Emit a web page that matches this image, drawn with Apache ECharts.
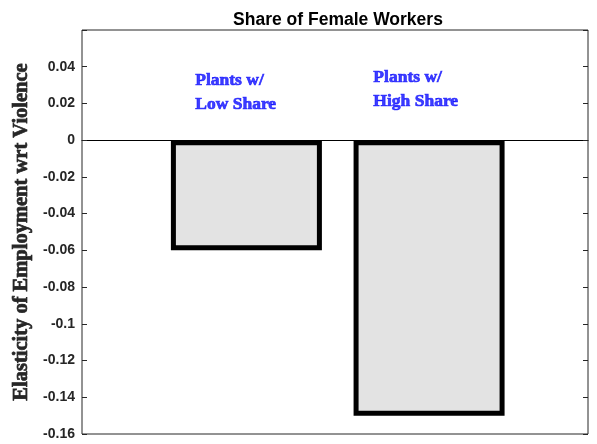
<!DOCTYPE html>
<html>
<head>
<meta charset="utf-8">
<script src="https://cdn.jsdelivr.net/npm/echarts@6/dist/echarts.min.js"></script>
<style>
  html, body { margin: 0; padding: 0; background: #fff; }
  #chart { width: 597px; height: 444px; }
</style>
</head>
<body>
<div id="chart"></div>
<script>
// bar positions and values
const barX = [1, 2]
const barValues = [-0.06, -0.15]
// blue annotations: [x, y, text]
const annotations = [
  [0.72, 0.026, 'Plants w/\nLow Share'],
  [1.695, 0.0275, 'Plants w/\nHigh Share']
]
const yTicks = [-0.16, -0.14, -0.12, -0.1, -0.08, -0.06, -0.04, -0.02, 0, 0.02, 0.04]

const chart = echarts.init(document.getElementById('chart'))

function fmt(v) {
  const r = Math.round(v * 100) / 100
  if (yTicks.indexOf(r) < 0) return ''
  return String(r)
}

chart.setOption({
  animation: false,
  title: {
    text: 'Share of Female Workers',
    left: 333,
    textAlign: 'center',
    top: 6,
    textStyle: { fontFamily: 'Liberation Sans', fontWeight: 'bold', fontSize: 17.5, color: '#000' }
  },
  grid: {
    left: 82, right: 9, top: 30, bottom: 10,
    outerBoundsMode: 'none',
    show: true,
    borderColor: '#262626',
    borderWidth: 1
  },
  xAxis: {
    type: 'value',
    min: 0.1,
    max: 2.87,
    axisLine: { show: true, onZero: true, lineStyle: { color: '#000', width: 1 } },
    axisTick: { show: false },
    axisLabel: { show: false },
    splitLine: { show: false }
  },
  yAxis: [{
    type: 'value',
    min: -0.16,
    max: 0.06,
    interval: 0.02,
    name: 'Elasticity of Employment wrt Violence',
    nameLocation: 'middle',
    nameGap: 49,
    nameTextStyle: {
      fontFamily: 'Liberation Serif', fontWeight: 700, fontSize: 20.5, color: '#262626',
      textBorderColor: '#262626', textBorderWidth: 0.7
    },
    axisLine: { show: false },
    axisTick: { show: true, inside: true, length: 5, lineStyle: { color: '#262626' } },
    axisLabel: {
      formatter: fmt,
      fontFamily: 'Liberation Sans', fontWeight: 'bold', fontSize: 14, color: '#262626', margin: 7
    },
    splitLine: { show: false }
  }, {
    type: 'value',
    position: 'right',
    min: -0.16,
    max: 0.06,
    interval: 0.02,
    axisLine: { show: false },
    axisTick: { show: true, inside: true, length: 5, lineStyle: { color: '#262626' } },
    axisLabel: { show: false },
    splitLine: { show: false }
  }],
  series: [{
    type: 'bar',
    data: barX.map((x, i) => [x, barValues[i]]),
    barWidth: 151,
    itemStyle: { color: '#e3e3e3', borderColor: '#000', borderWidth: 5 }
  }, {
    type: 'scatter',
    symbolSize: 0,
    data: annotations.map(a => ({ value: [a[0], a[1]], name: a[2] })),
    label: {
      show: true,
      formatter: p => p.name,
      position: 'right',
      distance: 0,
      align: 'left',
      verticalAlign: 'middle',
      fontFamily: 'Liberation Serif',
      fontWeight: 700,
      fontSize: 17.5,
      lineHeight: 24,
      color: '#0d0dff',
      textBorderColor: '#0d0dff',
      textBorderWidth: 0.7
    },
    silent: true
  }]
})
</script>
</body>
</html>
